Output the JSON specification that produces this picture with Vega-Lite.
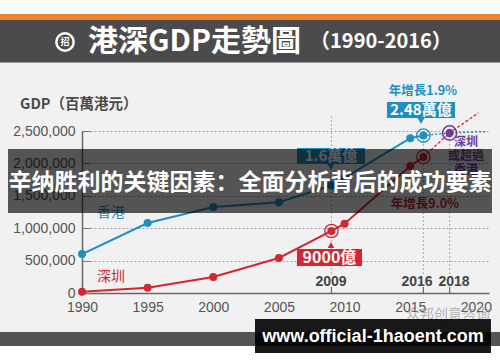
{
  "$schema": "https://vega.github.io/schema/vega-lite/v6.json",
  "width": 407,
  "height": 162,
  "autosize": {"type": "none"},
  "padding": {"left": 82, "top": 131, "right": 11, "bottom": 69},
  "background": "#f1f1f1",
  "config": {"view": {"stroke": null}, "font": "Liberation Sans"},
  "resolve": {"axis": {"x": "independent", "y": "independent"}},
  "data": {"values": [{}]},
  "datasets": {
    "gdp": [
      {"city": "香港", "year": 1990, "gdp": 600000},
      {"city": "香港", "year": 1995, "gdp": 1080000},
      {"city": "香港", "year": 2000, "gdp": 1327000},
      {"city": "香港", "year": 2005, "gdp": 1400000},
      {"city": "香港", "year": 2009, "gdp": 1660000},
      {"city": "香港", "year": 2010, "gdp": 1776000},
      {"city": "香港", "year": 2015, "gdp": 2390000},
      {"city": "香港", "year": 2016, "gdp": 2430000},
      {"city": "深圳", "year": 1990, "gdp": 20000},
      {"city": "深圳", "year": 1995, "gdp": 80000},
      {"city": "深圳", "year": 2000, "gdp": 247000},
      {"city": "深圳", "year": 2005, "gdp": 540000},
      {"city": "深圳", "year": 2009, "gdp": 957000},
      {"city": "深圳", "year": 2010, "gdp": 1070000},
      {"city": "深圳", "year": 2015, "gdp": 1960000},
      {"city": "深圳", "year": 2016, "gdp": 2100000}
    ],
    "proj": [
      {"city": "香港", "year": 2016, "gdp": 2430000},
      {"city": "香港", "year": 2018, "gdp": 2470000},
      {"city": "香港", "year": 2020.7, "gdp": 2490000},
      {"city": "深圳", "year": 2016, "gdp": 2100000},
      {"city": "深圳", "year": 2018, "gdp": 2470000},
      {"city": "深圳", "year": 2020.2, "gdp": 2780000}
    ]
  },
  "layer": [
    {
      "data": {"name": "gdp"},
      "transform": [{"filter": "datum.city === '香港'"}],
      "mark": {"type": "line", "color": "#1f8fc0", "strokeWidth": 2},
      "encoding": {
        "x": {"field": "year", "type": "quantitative",
          "scale": {"domain": [1990, 2021], "nice": false, "zero": false},
          "axis": {"values": [1990, 1995, 2000, 2005, 2010, 2015, 2020], "format": "d", "title": null, "grid": false, "ticks": false, "labelFlush": false, "labelOverlap": false, "labelFontSize": 14, "labelColor": "#555555", "labelPadding": 7, "domainColor": "#666666", "domainWidth": 1.5, "labelFont": "Liberation Sans"}},
        "y": {"field": "gdp", "type": "quantitative",
          "scale": {"domain": [0, 2500000], "nice": false, "zero": false},
          "axis": {"values": [0, 500000, 1000000, 1500000, 2000000, 2500000], "format": ",d", "title": null, "grid": true, "gridDash": [2, 2], "gridColor": "#a0a0a0", "gridWidth": 1, "gridOpacity": 1, "ticks": true, "tickSize": -8, "tickColor": "#777777", "labelFlush": false, "labelOverlap": false, "labelFontSize": 14, "labelColor": "#555555", "labelPadding": 15, "domainColor": "#666666", "domainWidth": 1.5, "labelFont": "Liberation Sans"}}
      }
    },
    {
      "mark": {"type": "rect", "color": "#ffffff"},
      "encoding": {
        "x": {"datum": 1983.7, "type": "quantitative", "axis": null},
        "x2": {"datum": 2021.9},
        "y": {"datum": 4521600, "type": "quantitative", "axis": null},
        "y2": {"datum": 4305500}
      }
    },
    {
      "mark": {"type": "rect", "color": "#f0822a"},
      "encoding": {
        "x": {"datum": 1983.7, "type": "quantitative", "axis": null},
        "x2": {"datum": 2021.9},
        "y": {"datum": 4305500, "type": "quantitative", "axis": null},
        "y2": {"datum": 4213000}
      }
    },
    {
      "mark": {"type": "rect", "color": "#4b4b4d"},
      "encoding": {
        "x": {"datum": 1983.7, "type": "quantitative", "axis": null},
        "x2": {"datum": 2021.9},
        "y": {"datum": 4213000, "type": "quantitative", "axis": null},
        "y2": {"datum": 3557100}
      }
    },
    {
      "mark": {"type": "rect", "color": "#545457"},
      "encoding": {
        "x": {"datum": 1983.7, "type": "quantitative", "axis": null},
        "x2": {"datum": 2021.9},
        "y": {"datum": -601800, "type": "quantitative", "axis": null},
        "y2": {"datum": -817900}
      }
    },
    {
      "mark": {"type": "rect", "color": "#ffffff"},
      "encoding": {
        "x": {"datum": 1983.7, "type": "quantitative", "axis": null},
        "x2": {"datum": 2021.9},
        "y": {"datum": -817900, "type": "quantitative", "axis": null},
        "y2": {"datum": -1070000}
      }
    },
    {
      "mark": {"type": "text", "text": "港深GDP走勢圖", "font": "Noto Sans CJK TC", "fontWeight": "bold", "fontSize": 30, "color": "#ffffff", "align": "left", "baseline": "middle"},
      "encoding": {
        "x": {"datum": 1990.457, "type": "quantitative", "axis": null},
        "y": {"datum": 3873500, "type": "quantitative", "axis": null}
      }
    },
    {
      "mark": {"type": "text", "text": "（1990-2016）", "font": "Noto Sans CJK TC", "fontWeight": "bold", "fontSize": 20, "color": "#ffffff", "align": "left", "baseline": "middle"},
      "encoding": {
        "x": {"datum": 2007.37, "type": "quantitative", "axis": null},
        "y": {"datum": 3873500, "type": "quantitative", "axis": null}
      }
    },
    {
      "mark": {"type": "point", "shape": "circle", "filled": false, "size": 300, "stroke": "#ffffff", "strokeWidth": 2.5, "opacity": 1},
      "encoding": {
        "x": {"datum": 1988.705, "type": "quantitative", "axis": null},
        "y": {"datum": 3873500, "type": "quantitative", "axis": null}
      }
    },
    {
      "mark": {"type": "text", "text": "招", "font": "Noto Sans CJK SC", "fontWeight": "bold", "fontSize": 9, "color": "#ffffff", "align": "center", "baseline": "middle"},
      "encoding": {
        "x": {"datum": 1988.705, "type": "quantitative", "axis": null},
        "y": {"datum": 3873500, "type": "quantitative", "axis": null}
      }
    },
    {
      "mark": {"type": "rule", "color": "#aaaaaa", "strokeDash": [2, 2], "strokeWidth": 1},
      "encoding": {
        "x": {"datum": 2009, "type": "quantitative", "axis": null},
        "y": {"datum": 293000, "type": "quantitative", "axis": null},
        "y2": {"datum": 2750000}
      }
    },
    {
      "mark": {"type": "rule", "color": "#aaaaaa", "strokeDash": [2, 2], "strokeWidth": 1},
      "encoding": {
        "x": {"datum": 2016, "type": "quantitative", "axis": null},
        "y": {"datum": 293000, "type": "quantitative", "axis": null},
        "y2": {"datum": 2430000}
      }
    },
    {
      "mark": {"type": "rule", "color": "#aaaaaa", "strokeDash": [2, 2], "strokeWidth": 1},
      "encoding": {
        "x": {"datum": 2018, "type": "quantitative", "axis": null},
        "y": {"datum": 293000, "type": "quantitative", "axis": null},
        "y2": {"datum": 2470000}
      }
    },
    {
      "mark": {"type": "rule", "color": "#666666", "strokeWidth": 1.2},
      "encoding": {
        "x": {"datum": 2009, "type": "quantitative", "axis": null},
        "y": {"datum": 0, "type": "quantitative", "axis": null},
        "y2": {"datum": 93000}
      }
    },
    {
      "mark": {"type": "rule", "color": "#666666", "strokeWidth": 1.2},
      "encoding": {
        "x": {"datum": 2016, "type": "quantitative", "axis": null},
        "y": {"datum": 0, "type": "quantitative", "axis": null},
        "y2": {"datum": 93000}
      }
    },
    {
      "mark": {"type": "rule", "color": "#666666", "strokeWidth": 1.2},
      "encoding": {
        "x": {"datum": 2018, "type": "quantitative", "axis": null},
        "y": {"datum": 0, "type": "quantitative", "axis": null},
        "y2": {"datum": 93000}
      }
    },
    {
      "data": {"name": "gdp"},
      "transform": [{"filter": "datum.city === '深圳'"}],
      "mark": {"type": "line", "color": "#d22630", "strokeWidth": 2},
      "encoding": {
        "x": {"field": "year", "type": "quantitative", "axis": null},
        "y": {"field": "gdp", "type": "quantitative", "axis": null}
      }
    },
    {
      "data": {"name": "proj"},
      "transform": [{"filter": "datum.city === '香港'"}],
      "mark": {"type": "line", "color": "#1f8fc0", "strokeWidth": 1.5, "strokeDash": [2, 2]},
      "encoding": {
        "x": {"field": "year", "type": "quantitative", "axis": null},
        "y": {"field": "gdp", "type": "quantitative", "axis": null}
      }
    },
    {
      "data": {"name": "proj"},
      "transform": [{"filter": "datum.city === '深圳'"}],
      "mark": {"type": "line", "color": "#d22630", "strokeWidth": 1.3, "strokeDash": [3, 2]},
      "encoding": {
        "x": {"field": "year", "type": "quantitative", "axis": null},
        "y": {"field": "gdp", "type": "quantitative", "axis": null}
      }
    },
    {
      "data": {"name": "gdp"},
      "mark": {"type": "point", "filled": true, "size": 64, "opacity": 1},
      "encoding": {
        "x": {"field": "year", "type": "quantitative", "axis": null},
        "y": {"field": "gdp", "type": "quantitative", "axis": null},
        "color": {"field": "city", "type": "nominal", "scale": {"domain": ["香港", "深圳"], "range": ["#1f8fc0", "#d22630"]}, "legend": null}
      }
    },
    {
      "data": {"name": "gdp"},
      "transform": [{"filter": "(datum.city === '香港' && datum.year === 2016) || (datum.city === '深圳' && (datum.year === 2016 || datum.year === 2009))"}],
      "mark": {"type": "point", "filled": false, "size": 180, "strokeWidth": 1.3, "opacity": 1},
      "encoding": {
        "x": {"field": "year", "type": "quantitative", "axis": null},
        "y": {"field": "gdp", "type": "quantitative", "axis": null},
        "color": {"field": "city", "type": "nominal", "legend": null}
      }
    },
    {
      "mark": {"type": "point", "filled": true, "size": 70, "color": "#6f3f98", "opacity": 1},
      "encoding": {
        "x": {"datum": 2018, "type": "quantitative", "axis": null},
        "y": {"datum": 2470000, "type": "quantitative", "axis": null}
      }
    },
    {
      "mark": {"type": "point", "filled": false, "size": 200, "stroke": "#6f3f98", "strokeWidth": 1.5, "opacity": 1},
      "encoding": {
        "x": {"datum": 2018, "type": "quantitative", "axis": null},
        "y": {"datum": 2470000, "type": "quantitative", "axis": null}
      }
    },
    {
      "mark": {"type": "text", "text": ["深圳", "或超過", "香港"], "lineHeight": 14, "font": "Noto Sans CJK TC", "fontWeight": "bold", "fontSize": 12, "color": "#6a3d9a", "align": "center", "baseline": "middle"},
      "encoding": {
        "x": {"datum": 2019.25, "type": "quantitative", "axis": null},
        "y": {"datum": 2330000, "type": "quantitative", "axis": null}
      }
    },
    {
      "mark": {"type": "text", "text": "香港", "font": "Noto Sans CJK TC", "fontSize": 14, "color": "#1f8fc0", "align": "center", "baseline": "middle"},
      "encoding": {
        "x": {"datum": 1992.21, "type": "quantitative", "axis": null},
        "y": {"datum": 1234600, "type": "quantitative", "axis": null}
      }
    },
    {
      "mark": {"type": "text", "text": "深圳", "font": "Noto Sans CJK TC", "fontSize": 14, "color": "#d22630", "align": "center", "baseline": "middle"},
      "encoding": {
        "x": {"datum": 1992.21, "type": "quantitative", "axis": null},
        "y": {"datum": 246900, "type": "quantitative", "axis": null}
      }
    },
    {
      "mark": {"type": "text", "text": "GDP（百萬港元）", "font": "Noto Sans CJK TC", "fontWeight": "bold", "fontSize": 14.5, "color": "#4a4a4a", "align": "left", "baseline": "middle"},
      "encoding": {
        "x": {"datum": 1985.278, "type": "quantitative", "axis": null},
        "y": {"datum": 2901200, "type": "quantitative", "axis": null}
      }
    },
    {
      "mark": {"type": "text", "text": "2009", "fontWeight": "bold", "fontSize": 14, "color": "#444444", "align": "center", "baseline": "middle"},
      "encoding": {
        "x": {"datum": 2008.964, "type": "quantitative", "axis": null},
        "y": {"datum": 169800, "type": "quantitative", "axis": null}
      }
    },
    {
      "mark": {"type": "text", "text": "2016", "fontWeight": "bold", "fontSize": 14, "color": "#444444", "align": "center", "baseline": "middle"},
      "encoding": {
        "x": {"datum": 2015.514, "type": "quantitative", "axis": null},
        "y": {"datum": 169800, "type": "quantitative", "axis": null}
      }
    },
    {
      "mark": {"type": "text", "text": "2018", "fontWeight": "bold", "fontSize": 14, "color": "#444444", "align": "center", "baseline": "middle"},
      "encoding": {
        "x": {"datum": 2018.332, "type": "quantitative", "axis": null},
        "y": {"datum": 169800, "type": "quantitative", "axis": null}
      }
    },
    {
      "mark": {"type": "text", "text": "年增長1.9%", "font": "Noto Sans CJK TC", "fontWeight": "bold", "fontSize": 12.5, "color": "#1f8fc0", "align": "center", "baseline": "middle"},
      "encoding": {
        "x": {"datum": 2015.97, "type": "quantitative", "axis": null},
        "y": {"datum": 3117000, "type": "quantitative", "axis": null}
      }
    },
    {
      "mark": {"type": "rect", "color": "#1f8fc0"},
      "encoding": {
        "x": {"datum": 2013.229, "type": "quantitative", "axis": null},
        "x2": {"datum": 2018.408},
        "y": {"datum": 2947500, "type": "quantitative", "axis": null},
        "y2": {"datum": 2700600}
      }
    },
    {
      "mark": {"type": "point", "shape": "triangle-down", "filled": true, "size": 45, "color": "#1f8fc0", "opacity": 1},
      "encoding": {
        "x": {"datum": 2015.82, "type": "quantitative", "axis": null},
        "y": {"datum": 2654000, "type": "quantitative", "axis": null}
      }
    },
    {
      "mark": {"type": "text", "text": "2.48萬億", "font": "Noto Sans CJK TC", "fontWeight": "bold", "fontSize": 15, "color": "#ffffff", "align": "center", "baseline": "middle"},
      "encoding": {
        "x": {"datum": 2015.82, "type": "quantitative", "axis": null},
        "y": {"datum": 2824000, "type": "quantitative", "axis": null}
      }
    },
    {
      "mark": {"type": "rect", "color": "#1f8fc0"},
      "encoding": {
        "x": {"datum": 2006.375, "type": "quantitative", "axis": null},
        "x2": {"datum": 2011.554},
        "y": {"datum": 2237700, "type": "quantitative", "axis": null},
        "y2": {"datum": 1990700}
      }
    },
    {
      "mark": {"type": "point", "shape": "triangle-down", "filled": true, "size": 45, "color": "#1f8fc0", "opacity": 1},
      "encoding": {
        "x": {"datum": 2008.964, "type": "quantitative", "axis": null},
        "y": {"datum": 1944400, "type": "quantitative", "axis": null}
      }
    },
    {
      "mark": {"type": "text", "text": "1.6萬億", "font": "Noto Sans CJK TC", "fontWeight": "bold", "fontSize": 15, "color": "#ffffff", "align": "center", "baseline": "middle"},
      "encoding": {
        "x": {"datum": 2008.964, "type": "quantitative", "axis": null},
        "y": {"datum": 2114200, "type": "quantitative", "axis": null}
      }
    },
    {
      "mark": {"type": "rect", "color": "#d22630"},
      "encoding": {
        "x": {"datum": 2006.375, "type": "quantitative", "axis": null},
        "x2": {"datum": 2011.325},
        "y": {"datum": 679000, "type": "quantitative", "axis": null},
        "y2": {"datum": 416700}
      }
    },
    {
      "mark": {"type": "point", "shape": "triangle-up", "filled": true, "size": 45, "color": "#d22630", "opacity": 1},
      "encoding": {
        "x": {"datum": 2008.964, "type": "quantitative", "axis": null},
        "y": {"datum": 740700, "type": "quantitative", "axis": null}
      }
    },
    {
      "mark": {"type": "text", "text": "9000億", "font": "Noto Sans CJK TC", "fontWeight": "bold", "fontSize": 16, "color": "#ffffff", "align": "center", "baseline": "middle"},
      "encoding": {
        "x": {"datum": 2008.85, "type": "quantitative", "axis": null},
        "y": {"datum": 547800, "type": "quantitative", "axis": null}
      }
    },
    {
      "mark": {"type": "text", "text": "年增長9.0%", "font": "Noto Sans CJK TC", "fontWeight": "bold", "fontSize": 12.5, "color": "#c0262e", "align": "center", "baseline": "middle"},
      "encoding": {
        "x": {"datum": 2016.12, "type": "quantitative", "axis": null},
        "y": {"datum": 1373500, "type": "quantitative", "axis": null}
      }
    },
    {
      "mark": {"type": "rect", "color": "#000000", "opacity": 0.65},
      "encoding": {
        "x": {"datum": 1984.364, "type": "quantitative", "axis": null},
        "x2": {"datum": 2021.226},
        "y": {"datum": 2222200, "type": "quantitative", "axis": null},
        "y2": {"datum": 1234600}
      }
    },
    {
      "mark": {"type": "text", "text": "辛纳胜利的关键因素：全面分析背后的成功要素", "font": "Noto Sans CJK SC", "fontWeight": "bold", "fontSize": 23, "color": "#ffffff", "align": "center", "baseline": "middle"},
      "encoding": {
        "x": {"datum": 2002.795, "type": "quantitative", "axis": null},
        "y": {"datum": 1697500, "type": "quantitative", "axis": null}
      }
    },
    {
      "mark": {"type": "text", "text": "众邦创意咨询", "font": "Noto Sans CJK SC", "fontSize": 14, "color": "#9a9a9a", "opacity": 0.7, "align": "center", "baseline": "middle"},
      "encoding": {
        "x": {"datum": 2017.875, "type": "quantitative", "axis": null},
        "y": {"datum": -339500, "type": "quantitative", "axis": null}
      }
    },
    {
      "mark": {"type": "rect", "color": "#000000", "opacity": 0.9},
      "encoding": {
        "x": {"datum": 2003.176, "type": "quantitative", "axis": null},
        "x2": {"datum": 2021.15},
        "y": {"datum": -401200, "type": "quantitative", "axis": null},
        "y2": {"datum": -925900}
      }
    },
    {
      "mark": {"type": "text", "text": "www.official-1haoent.com", "font": "Liberation Sans", "fontWeight": "bold", "fontSize": 18, "color": "#ffffff", "align": "center", "baseline": "middle"},
      "encoding": {
        "x": {"datum": 2012.163, "type": "quantitative", "axis": null},
        "y": {"datum": -679000, "type": "quantitative", "axis": null}
      }
    }
  ]
}
